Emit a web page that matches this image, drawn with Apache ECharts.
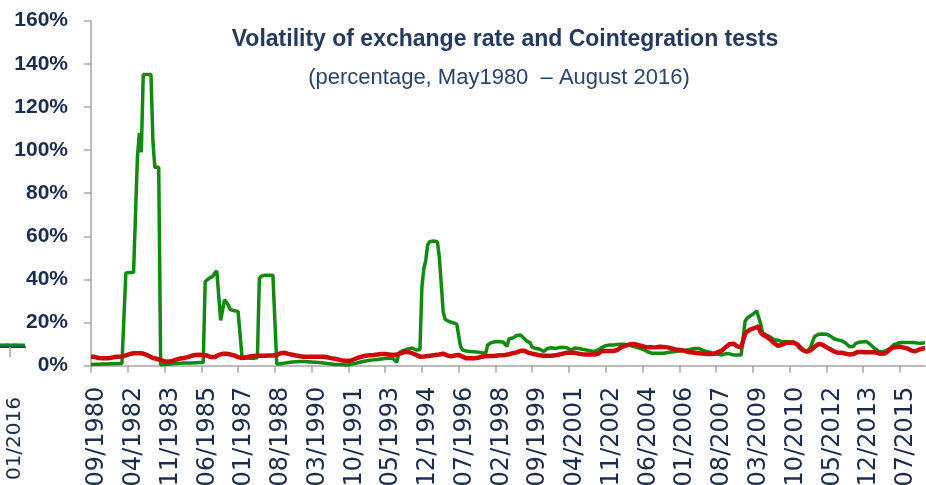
<!DOCTYPE html>
<html>
<head>
<meta charset="utf-8">
<script src="https://cdn.jsdelivr.net/npm/echarts@6/dist/echarts.min.js"></script>
<style>
html,body{margin:0;padding:0;background:#fff;}
#chart{width:926px;height:485px;}
</style>
</head>
<body>
<div id="chart"></div>
<script>
// Monthly categories, 09/1980 .. 08/2016
var months = [];
(function(){ var y = 1980, m = 9; for (var k = 0; k < 432; k++) { months.push((m < 10 ? '0' : '') + m + '/' + y); m++; if (m > 12) { m = 1; y++; } } })();

// Volatility of exchange rate (green), rows of 12 months starting 09/1980
var volatility = [
 0.6,0.6,0.7,0.7,0.7,0.8,0.8,0.8,0.8,0.8,0.9,0.9,
 0.9,0.9,1.0,1.0,1.0,1.0,43.0,43.0,43.2,43.2,43.3,43.4,
 97,108,99,135,135,135,135,135,104,92,92,92,
 0.4,0.4,0.5,0.6,0.7,0.8,0.9,1.0,1.0,1.1,1.1,1.2,
 1.2,1.2,1.3,1.3,1.3,1.4,1.4,1.4,1.5,1.5,1.5,39.0,
 39.5,40.5,41,41.5,43,44,44.5,21,20.5,30.5,29.5,28,
 26,25.5,25.5,25.3,25.2,25,4.5,3.8,3.6,3.5,3.5,3.4,
 3.5,3.6,3.7,40.5,41.5,42,42,42,42,42,42,42,
 0.8,0.8,0.9,1.0,1.2,1.4,1.5,1.6,1.7,1.8,1.8,1.9,
 1.9,1.9,1.9,1.8,1.8,1.7,1.7,1.6,1.6,1.5,1.5,1.4,
 1.3,1.2,1.0,0.9,0.8,0.7,0.6,0.5,0.5,0.4,0.4,0.3,
 0.3,0.4,0.6,0.8,1.0,1.2,1.4,1.6,1.8,2.0,2.2,2.3,
 2.5,2.6,2.7,2.8,2.9,3.0,3.1,3.2,3.3,3.3,3.4,3.4,
 3.4,3.4,1.6,5.5,6.5,6.8,7.2,7.5,7.8,8.0,8.2,7.8,
 7.3,7.3,7.4,36.5,45,49,56,57.5,57.8,57.8,57.8,57.5,
 50.5,38,25,21.5,21,20.5,20.2,20,19.7,19.3,18.9,8.8,
 7.3,7.0,6.8,6.7,6.6,6.5,6.5,6.4,6.3,6.2,6.0,5.9,
 5.9,9.6,10.3,10.8,11.0,11.1,11.1,11.1,11.0,11.0,10.5,9.0,
 12.5,12.7,12.8,13.0,14.0,14.2,14.2,13.5,12.5,11.5,10.8,10.6,
 8.5,8.2,8.0,7.8,7.6,7.2,6.6,6.5,8.0,8.2,8.3,8.2,
 8.0,8.2,8.4,8.5,8.5,8.5,8.3,7.6,7.3,7.6,8.2,8.1,
 8.0,7.8,7.6,7.4,7.3,7.3,7.0,6.7,6.5,6.8,7.4,8.0,
 8.4,8.9,9.3,9.6,9.6,9.6,9.6,9.7,9.8,9.9,9.9,9.9,
 9.9,9.9,9.6,9.3,9.0,8.8,8.5,8.2,7.9,7.6,7.3,6.8,
 6.3,5.9,5.8,5.8,5.8,5.7,5.8,5.8,5.8,6.0,6.1,6.3,
 6.4,6.5,6.6,6.7,6.8,6.9,7.0,7.1,7.3,7.5,7.6,7.8,
 8.0,8.1,8.0,7.6,7.2,6.8,6.6,6.5,6.3,6.0,5.7,5.5,
 5.3,5.0,5.0,5.3,5.6,5.8,5.5,5.2,5.0,5.0,5.0,5.0,
 5.0,5.2,20.5,22.0,22.8,23.3,23.8,24.5,25.5,26.0,19.7,15.5,
 14.8,14.2,13.7,13.3,12.5,12.0,11.9,11.8,11.5,11.2,11.1,11.1,
 11.1,11.1,11.1,11.1,11.0,9.5,8.2,7.5,7.0,6.6,6.5,7.5,
 8.8,11.5,13.5,14.2,14.6,14.7,14.7,14.7,14.6,14.5,13.8,12.9,
 12.5,12.2,12.0,11.9,11.5,11.0,10.5,9.7,8.8,8.1,9.0,10.2,
 10.6,10.9,11.1,11.1,11.1,11.1,10.5,9.6,8.8,8.0,7.2,6.6,
 6.5,6.5,6.5,7.0,7.6,8.1,9.0,9.8,10.2,10.5,10.7,10.8,
 10.8,10.8,10.8,10.8,10.8,10.8,10.6,10.5,10.4,10.4,10.5,10.6
];

// Cointegration tests (red)
var cointegration = [
 4.3,4.2,4.0,3.8,3.6,3.5,3.4,3.4,3.4,3.5,3.6,3.8,
 4.0,4.1,4.2,4.2,4.3,4.5,4.8,5.2,5.4,5.6,5.8,5.8,
 5.8,5.8,5.8,5.6,5.3,5.0,4.5,4.0,3.6,3.4,3.2,3.0,
 2.6,2.3,2.1,2.0,1.9,2.0,2.2,2.5,2.8,3.1,3.3,3.5,
 3.6,3.8,4.0,4.3,4.6,4.8,5.0,5.0,5.1,5.0,5.0,4.9,
 4.7,4.4,4.0,3.8,4.0,4.6,5.0,5.3,5.5,5.6,5.6,5.4,
 5.2,5.0,4.8,4.4,4.0,3.8,3.6,3.6,3.8,4.1,4.3,4.4,
 4.5,4.6,4.6,4.6,4.6,4.6,4.6,4.6,4.7,4.7,4.7,4.8,
 5.0,5.4,5.8,6.0,6.0,5.8,5.5,5.3,5.1,4.9,4.7,4.5,
 4.4,4.3,4.2,4.2,4.2,4.2,4.2,4.2,4.2,4.2,4.2,4.2,
 4.1,4.0,3.9,3.7,3.5,3.4,3.2,3.0,2.8,2.6,2.4,2.3,
 2.3,2.3,2.3,2.6,3.0,3.4,3.7,3.9,4.2,4.4,4.6,4.8,
 4.9,5.0,5.0,5.1,5.2,5.3,5.4,5.4,5.4,5.3,5.2,5.1,
 5.0,5.0,5.2,5.4,5.7,6.0,6.4,6.5,6.3,6.0,5.8,5.4,
 5.0,4.5,4.2,4.2,4.3,4.4,4.5,4.6,4.7,4.8,5.0,5.1,
 5.2,5.4,5.6,5.3,4.8,4.3,4.3,4.5,4.7,4.9,5.0,4.8,
 4.2,3.6,3.4,3.4,3.4,3.4,3.4,3.5,3.7,3.9,4.2,4.3,
 4.4,4.5,4.5,4.5,4.5,4.6,4.7,4.8,4.9,5.0,5.0,5.0,
 5.3,5.6,5.8,6.0,6.2,6.5,6.9,7.0,6.9,6.6,6.0,5.8,
 5.6,5.4,5.2,5.0,4.8,4.6,4.6,4.6,4.6,4.6,4.6,4.6,
 4.8,5.0,5.2,5.4,5.6,5.8,6.0,6.0,6.0,6.0,6.0,5.8,
 5.6,5.4,5.3,5.2,5.2,5.2,5.2,5.2,5.2,5.2,5.5,6.2,
 6.8,6.8,6.8,6.8,6.8,6.8,6.8,7.0,7.3,7.8,8.5,9.0,
 9.2,9.5,9.8,10.0,10.1,10.0,9.8,9.6,9.3,9.1,8.8,8.6,
 8.5,8.5,8.5,8.5,8.6,8.7,8.8,8.8,8.7,8.6,8.5,8.3,
 8.0,7.7,7.5,7.4,7.3,7.3,7.1,6.9,6.6,6.4,6.2,6.1,
 6.0,5.9,5.8,5.7,5.6,5.5,5.4,5.4,5.4,5.4,5.5,5.8,
 6.3,6.5,7.0,7.8,8.6,9.3,10.0,10.4,10.2,9.6,9.0,8.5,
 8.5,8.8,14.8,15.8,16.5,16.9,17.2,17.5,17.8,18.3,15.5,14.5,
 14.0,13.6,13.0,12.2,11.3,10.5,9.6,9.1,9.3,9.8,10.4,10.5,
 10.6,10.6,10.7,10.7,10.7,10.0,9.0,8.1,7.3,6.7,6.5,6.8,
 7.2,7.9,8.8,9.6,10.1,10.0,9.7,9.2,8.6,8.1,7.6,7.2,
 6.6,6.2,6.0,6.0,6.0,5.8,5.6,5.4,5.2,5.0,5.4,5.9,
 6.3,6.5,6.4,6.3,6.2,6.2,6.2,6.2,6.2,6.2,6.1,5.8,
 5.5,5.4,5.6,6.0,6.8,7.6,8.3,8.6,8.7,8.8,8.8,8.6,
 8.4,8.2,8.0,7.5,7.0,6.6,6.7,7.1,7.5,7.8,8.0,8.1
];

// Y tick values
var yTicks = [0, 20, 40, 60, 80, 100, 120, 140, 160];

// Cropped neighbouring chart fragment on the far left (01/2015 .. 08/2016)
var fragMonths = ['01/2015','02/2015','03/2015','04/2015','05/2015','06/2015','07/2015','08/2015','09/2015','10/2015','11/2015','12/2015','01/2016','02/2016','03/2016','04/2016','05/2016','06/2016','07/2016','08/2016'];
var fragGreen = [1.0,1.0,1.1,1.1,1.0,1.0,1.1,1.1,1.0,1.0,1.1,1.1,1.0,1.0,1.1,1.1,1.0,1.0,1.0,1.0];

var navy = '#1b2c4d';
var chart = echarts.init(document.getElementById('chart'), null, {renderer: 'canvas'});
chart.setOption({
  backgroundColor: '#ffffff',
  animation: false,
  title: [
    {text: 'Volatility of exchange rate and Cointegration tests', left: 500, top: 23, textAlign: 'center',
     textStyle: {fontFamily: 'Liberation Sans, Arial, sans-serif', fontWeight: 'bold', fontSize: 23, color: '#23395d'}},
    {text: '(percentage, May1980  \u2013 August 2016)', left: 494, top: 62, textAlign: 'center',
     textStyle: {fontFamily: 'Liberation Sans, Arial, sans-serif', fontWeight: 'normal', fontSize: 22, color: '#2b4368'}}
  ],
  grid: [
    {left: 91, right: 1, top: 20.7, bottom: 119.3, containLabel: false, outerBoundsMode: 'none'},
    {left: -15.7, width: 40.7, top: 20.7, height: 326.3, containLabel: false, outerBoundsMode: 'none'}
  ],
  xAxis: [
    {type: 'category', gridIndex: 0, data: months, boundaryGap: false,
     axisLine: {lineStyle: {color: '#a6a6a6', width: 1.5}},
     axisTick: {show: true, interval: 18, length: 7, lineStyle: {color: '#a6a6a6', width: 1.5}},
     axisLabel: {interval: 18, rotate: 90, margin: 21, verticalAlign: 'top', lineHeight: 12, fontFamily: 'DejaVu Sans', fontSize: 24, color: navy}},
    {type: 'category', gridIndex: 1, data: fragMonths, boundaryGap: false,
     axisLine: {show: true, lineStyle: {color: '#1f3a7a', width: 2}},
     axisTick: {show: true, length: 10, interval: function(i, v){ return v === '01/2016'; }, lineStyle: {color: '#a6a6a6', width: 1.5}},
     axisLabel: {interval: function(i, v){ return v === '01/2016'; }, rotate: 90, margin: 50, verticalAlign: 'top', lineHeight: 10, fontFamily: 'DejaVu Sans', fontSize: 20, color: navy}}
  ],
  yAxis: [
    {type: 'value', gridIndex: 0, min: 0, max: 160, interval: 20,
     axisLine: {show: true, lineStyle: {color: '#a6a6a6', width: 1.5}},
     axisTick: {show: true, length: 7, lineStyle: {color: '#a6a6a6', width: 1.5}},
     splitLine: {show: false},
     axisLabel: {margin: 23, fontFamily: 'Liberation Sans, Arial, sans-serif', fontWeight: 'bold', fontSize: 21, color: navy,
       formatter: function(v){ return yTicks.indexOf(v) >= 0 ? v + '%' : ''; }}},
    {type: 'value', gridIndex: 1, min: 0, max: 160, show: false}
  ],
  series: [
    {name: 'Volatility of exchange rate', type: 'line', xAxisIndex: 0, yAxisIndex: 0, data: volatility,
     showSymbol: false, symbol: 'none', lineStyle: {color: '#108a10', width: 3.5}, z: 2},
    {name: 'Cointegration tests', type: 'line', xAxisIndex: 0, yAxisIndex: 0, data: cointegration,
     showSymbol: false, symbol: 'none', lineStyle: {color: '#cc0a0a', width: 4.5}, z: 3},
    {name: 'fragment', type: 'line', xAxisIndex: 1, yAxisIndex: 1, data: fragGreen,
     showSymbol: false, symbol: 'none', lineStyle: {color: '#108a10', width: 3}, z: 2}
  ]
});
</script>
</body>
</html>
